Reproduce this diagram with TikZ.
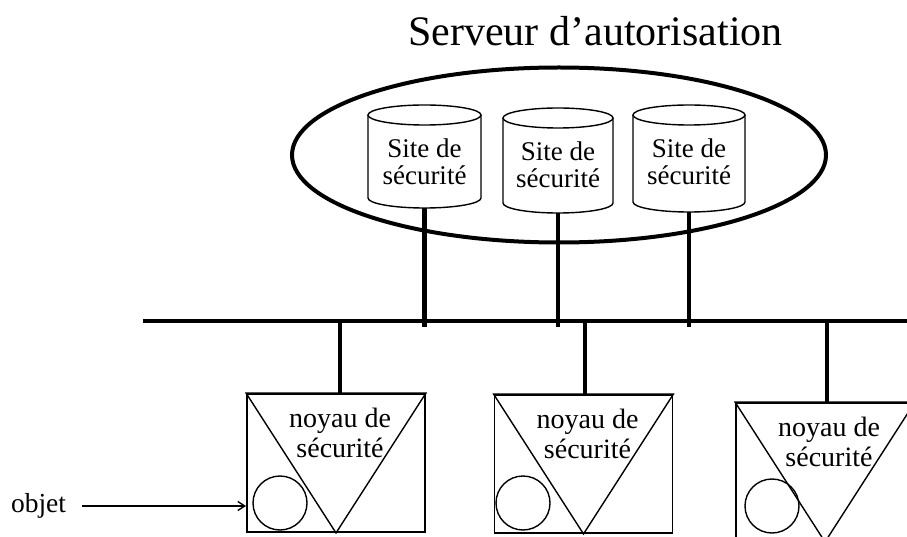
\documentclass[tikz,border=0pt]{standalone}
\usepackage{fontspec}
\setmainfont{Liberation Serif}
\usetikzlibrary{arrows.meta,calc,shapes.geometric}

\tikzset{
  titletext/.style={font=\fontsize{42}{46}\selectfont, inner sep=0},
  sitetext/.style={font=\fontsize{27}{27.5}\selectfont, align=center, inner sep=0},
  kerneltext/.style={font=\fontsize{28}{30}\selectfont, align=center, inner sep=0},
  plaintext/.style={font=\fontsize{27.5}{30}\selectfont, inner sep=0},
  fineline/.style={line width=1.4pt},
  busline/.style={line width=4pt},
  tapline/.style={line width=4.5pt},
  serverring/.style={draw, ellipse, line width=4pt, inner sep=0,
    minimum width=534pt, minimum height=175pt},
  kernelbox/.style={draw, line width=1.9pt, inner sep=0,
    minimum width=178pt, minimum height=138pt},
  objring/.style={draw, circle, line width=1.4pt, inner sep=0, minimum size=54pt},
  pointer/.style={fineline, -{Straight Barb[length=7pt,width=9pt]}},
}

\begin{document}
\begin{tikzpicture}[x=1pt,y=-1pt]
\useasboundingbox (0,0) rectangle (907,537);
\clip (0,0) rectangle (907,537);

% title
\node[titletext, anchor=base] (titre) at (595.5,46) {Serveur d’autorisation};

% the authorisation server
\node[serverring] (serveur) at (559,155) {};

% the three security sites (cylinders)
\foreach \n/\cx/\ty/\by/\hw in {s1/424.5/115/198/56.5, s2/558/118/203/55, s3/689/115/202/56}{
  \draw[fineline] (\cx,\ty) ellipse [x radius=\hw, y radius=10];
  \draw[fineline] ({\cx-\hw},\ty) -- ({\cx-\hw},\by)
     arc[start angle=180, end angle=0, x radius=\hw, y radius=10] -- ({\cx+\hw},\ty);
  \coordinate (\n-bot) at (\cx,{\by+10});
  \node[sitetext] (\n) at (\cx,{\ty+47}) {Site de\\sécurité};
}

% network bus
\coordinate (busL) at (143,320.5);
\coordinate (busR) at (912,320.5);
\draw[busline] (busL) -- (busR);

% site taps onto the bus
\foreach \n in {s1,s2,s3}
  \draw[tapline] (\n-bot) -- ($(\n-bot |- busL)+(0,6)$);

% security kernels
\node[kernelbox] (k1) at (336,463) {};
\node[kernelbox] (k2) at (583.5,464) {};
\node[kernelbox] (k3) at (825,472) {};

\foreach \k/\dx in {k1/4, k2/1.5, k3/2}{
  \draw[fineline] (\k.north west) -- (\k.north east) -- (\k.south) -- cycle;
  \draw[tapline] ($(\k.north)+(\dx,0)$) -- ($(\k.north |- busL)+(\dx,0)$);
  \node[kerneltext] (\k-t) at ($(\k.north)+(4,39.5)$) {noyau de\\sécurité};
}

% objects held by the kernels
\node[objring] (o1) at (280,503) {};
\node[objring] (o2) at (523,503) {};
\node[objring] (o3) at (772,506) {};

% object label
\node[plaintext] (objet) at (38.5,506) {objet};
\draw[pointer, shorten <=16pt] (objet.east) -- (objet.east -| k1.west);
\end{tikzpicture}
\end{document}
